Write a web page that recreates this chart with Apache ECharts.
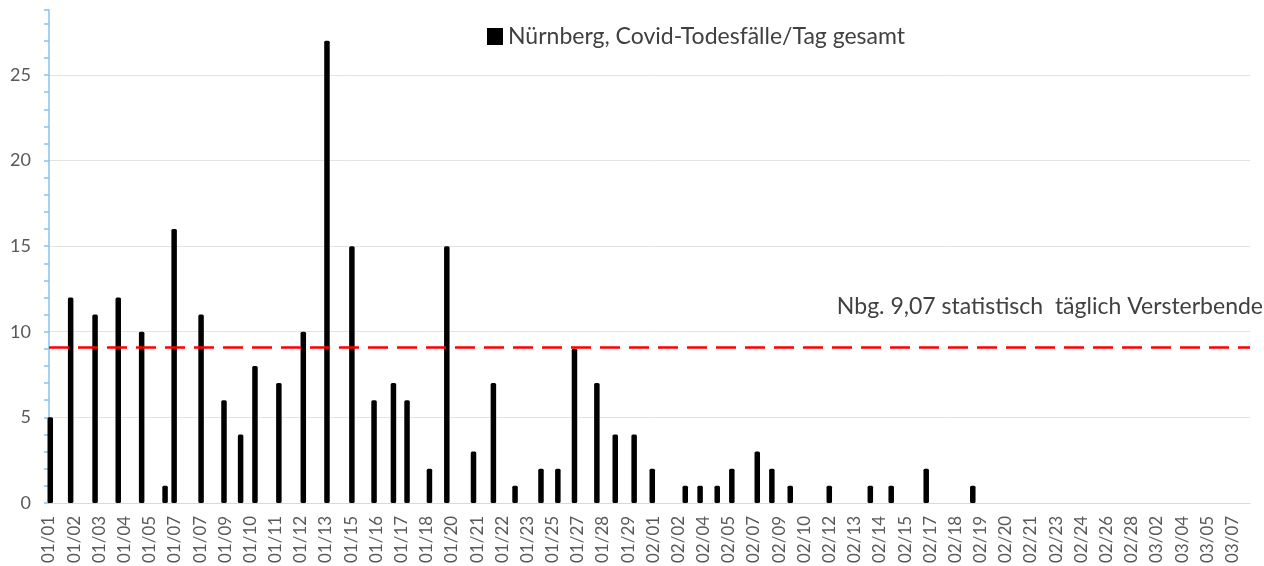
<!DOCTYPE html>
<html>
<head>
<meta charset="utf-8">
<title>Nürnberg Covid-Todesfälle</title>
<script src="https://cdn.jsdelivr.net/npm/echarts@6.0.0/dist/echarts.min.js"></script>
<style>
  html, body { margin: 0; padding: 0; background: #fff; }
  #chart { width: 1264px; height: 566px; }
</style>
</head>
<body>
<div id="chart"></div>
<script>
// x-axis tick labels (one per label slot, as printed under the axis)
const tickLabels = [
  '01/01', '01/02', '01/03', '01/04', '01/05', '01/07', '01/07', '01/09', '01/10', '01/11',
  '01/12', '01/13', '01/15', '01/16', '01/17', '01/18', '01/20', '01/21', '01/22', '01/23',
  '01/25', '01/27', '01/28', '01/29', '02/01', '02/02', '02/04', '02/05', '02/07', '02/09',
  '02/10', '02/12', '02/13', '02/14', '02/15', '02/17', '02/18', '02/19', '02/20', '02/21',
  '02/23', '02/24', '02/26', '02/28', '03/02', '03/04', '03/05', '03/07'
]
// where each bar sits, in label-slot units (0 = first label)
const barPositions = [
  0.05, 0.86, 1.83, 2.75, 3.68, 4.61, 4.97, 6.04, 6.95, 7.61,
  8.18, 9.13, 10.10, 11.04, 12.03, 12.91, 13.68, 14.22, 15.11, 15.80,
  16.86, 17.65, 18.51, 19.54, 20.21, 20.87, 21.76, 22.49, 23.24, 23.96,
  25.27, 25.86, 26.54, 27.12, 28.13, 28.71, 29.44, 30.99, 32.62, 33.45,
  34.84, 36.69
]
// Covid-Todesfälle pro Tag
const deathValues = [
  5, 12, 11, 12, 10, 1, 16, 11, 6, 4,
  8, 7, 10, 27, 15, 6, 7, 6, 2, 15,
  3, 7, 1, 2, 2, 9, 7, 4, 4, 2,
  1, 1, 1, 2, 3, 2, 1, 1, 1, 1,
  2, 1
]
// statistischer Tagesdurchschnitt
const avgDeaths = 9.07
const seriesName = 'Nürnberg, Covid-Todesfälle/Tag gesamt'
const avgText = 'Nbg. 9,07 statistisch  täglich Versterbende'

const FONT = 'Lato, "Open Sans", sans-serif'
const Y_MAX = 28.8

const chart = echarts.init(document.getElementById('chart'))

const option = {
  animation: false,
  backgroundColor: '#fff',
  textStyle: { fontFamily: FONT },
  grid: {
    left: 49,
    right: 14,
    top: 10,
    bottom: 62
  },
  legend: {
    data: [seriesName],
    left: 482,
    top: 20,
    icon: 'rect',
    itemWidth: 16,
    itemHeight: 17,
    textStyle: { fontFamily: FONT, fontSize: 23, color: '#404040' }
  },
  xAxis: {
    type: 'value',
    min: 0,
    max: 47.7,
    interval: 1,
    axisLine: { show: true, lineStyle: { color: '#D9D9D9', width: 1 } },
    axisTick: { show: false },
    splitLine: { show: false },
    axisLabel: {
      rotate: 90,
      margin: 13,
      fontFamily: FONT,
      fontSize: 17,
      color: '#595959',
      showMaxLabel: false,
      formatter: (v) => {
        const i = Math.round(v)
        return Math.abs(v - i) < 1e-6 && tickLabels[i] ? tickLabels[i] : ''
      }
    }
  },
  yAxis: [
    {
      // labels + gridlines every 5
      type: 'value',
      position: 'left',
      min: 0,
      max: Y_MAX,
      interval: 5,
      axisLine: { show: false },
      axisTick: { show: false },
      splitLine: { show: true, showMaxLine: false, lineStyle: { color: '#E3E3E3', width: 1 } },
      axisLabel: {
        margin: 18,
        fontFamily: FONT,
        fontSize: 18,
        color: '#595959',
        showMaxLabel: false
      }
    },
    {
      // blue axis line with a tick at every unit
      type: 'value',
      position: 'left',
      offset: 0,
      min: 0,
      max: Y_MAX,
      interval: 1,
      axisLine: { show: true, lineStyle: { color: '#8EC1EA', width: 1.5 } },
      axisTick: { show: true, length: 5, lineStyle: { color: '#8EC1EA', width: 1.5 } },
      splitLine: { show: false },
      axisLabel: { show: false }
    }
  ],
  graphic: [
    {
      type: 'text',
      right: 1,
      top: 295,
      style: {
        text: avgText,
        font: '23px ' + FONT,
        fill: '#404040'
      }
    }
  ],
  series: [
    {
      name: seriesName,
      type: 'bar',
      yAxisIndex: 0,
      barWidth: 5.5,
      itemStyle: { color: '#000', borderRadius: 1.5 },
      data: barPositions.map((p, i) => [p, deathValues[i]]),
      markLine: {
        silent: true,
        symbol: ['none', 'none'],
        label: { show: false },
        lineStyle: { color: '#FF0000', width: 2.5, type: [20, 9] },
        data: [{ yAxis: avgDeaths }]
      }
    }
  ]
}

chart.setOption(option)
</script>
</body>
</html>
